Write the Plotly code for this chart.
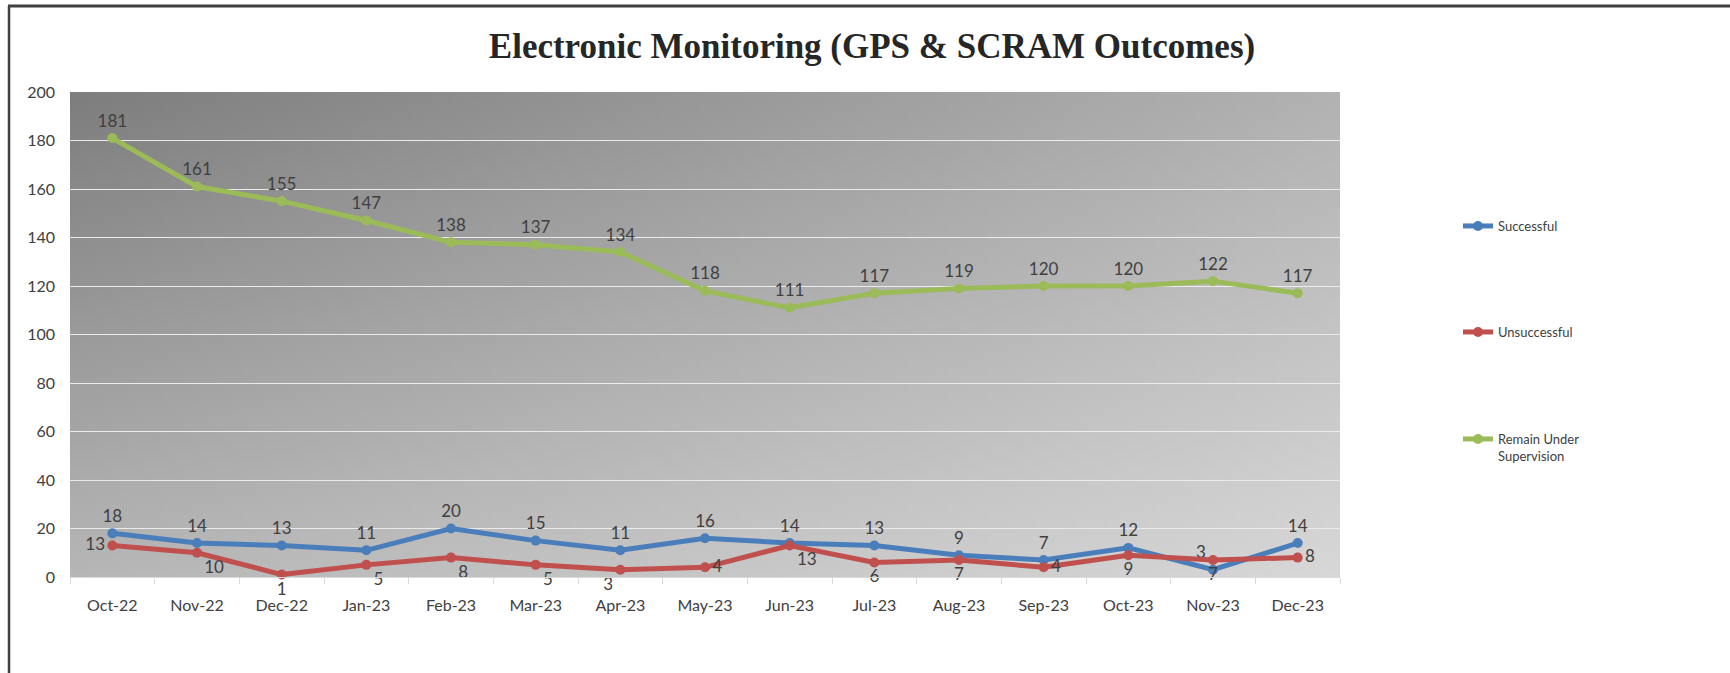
import zlib, struct, base64
import plotly.graph_objects as go

months = ["Oct-22", "Nov-22", "Dec-22", "Jan-23", "Feb-23", "Mar-23", "Apr-23", "May-23",
          "Jun-23", "Jul-23", "Aug-23", "Sep-23", "Oct-23", "Nov-23", "Dec-23"]
successful = [18, 14, 13, 11, 20, 15, 11, 16, 14, 13, 9, 7, 12, 3, 14]
unsuccessful = [13, 10, 1, 5, 8, 5, 3, 4, 13, 6, 7, 4, 9, 7, 8]
remain = [181, 161, 155, 147, 138, 137, 134, 118, 111, 117, 119, 120, 120, 122, 117]

succ_pos = ["top center"] * 15
succ_pos[13] = "top left"
unsucc_pos = ["middle left", "bottom right", "bottom center", "bottom right", "bottom right",
              "bottom right", "bottom left", "middle right", "bottom right", "bottom center",
              "bottom center", "middle right", "bottom center", "bottom center", "middle right"]

# gradient background image (grey, darker top-left -> lighter bottom-right)
def make_png(w, h, tl, tr, bl, br):
    rows = []
    for j in range(h):
        v = j / (h - 1)
        row = bytearray([0])
        for i in range(w):
            u = i / (w - 1)
            val = tl * (1 - u) * (1 - v) + tr * u * (1 - v) + bl * (1 - u) * v + br * u * v
            row.append(int(round(val)))
        rows.append(bytes(row))
    raw = b"".join(rows)

    def chunk(t, d):
        c = struct.pack(">I", len(d)) + t + d
        return c + struct.pack(">I", zlib.crc32(t + d) & 0xffffffff)

    data = b"\x89PNG\r\n\x1a\n"
    data += chunk(b"IHDR", struct.pack(">IIBBBBB", w, h, 8, 0, 0, 0, 0))
    data += chunk(b"IDAT", zlib.compress(raw, 9))
    data += chunk(b"IEND", b"")
    return "data:image/png;base64," + base64.b64encode(data).decode()

bg = make_png(128, 64, 126, 178, 182, 215)

W, H = 1730, 673
L, R, T, B = 70, 1340, 92, 577
pw, ph = R - L, B - T

def px_x(p):
    return (p - L) / pw

def px_y(p):
    return 1 - (p - T) / ph

lbl_font = dict(family="Lato", size=17, color="#404040")
tick_font = dict(family="Lato", size=16, color="#404040")

fig = go.Figure()
fig.add_trace(go.Scatter(
    x=months, y=successful, name="Successful", mode="lines+markers+text",
    line=dict(color="#4A7EBB", width=5), marker=dict(size=10, color="#4A7EBB"),
    text=[str(v) for v in successful], textposition=succ_pos, textfont=lbl_font,
    legend="legend", cliponaxis=False))
fig.add_trace(go.Scatter(
    x=months, y=unsuccessful, name="Unsuccessful", mode="lines+markers+text",
    line=dict(color="#C0504D", width=5), marker=dict(size=10, color="#C0504D"),
    text=[str(v) for v in unsuccessful], textposition=unsucc_pos, textfont=lbl_font,
    legend="legend2", cliponaxis=False))
fig.add_trace(go.Scatter(
    x=months, y=remain, name="Remain Under<br>Supervision", mode="lines+markers+text",
    line=dict(color="#9BBB59", width=5), marker=dict(size=10, color="#9BBB59"),
    text=[str(v) for v in remain], textposition="top center", textfont=lbl_font,
    legend="legend3", cliponaxis=False))

leg_common = dict(font=dict(family="Lato", size=13, color="#404040"),
                  bgcolor="rgba(0,0,0,0)", xanchor="left", valign="top")
LEGX = 1458

fig.update_layout(
    width=W, height=H, autosize=False,
    margin=dict(l=L, r=W - R, t=T, b=H - B),
    paper_bgcolor="white", plot_bgcolor="rgba(0,0,0,0)",
    title=dict(text="<b>Electronic Monitoring (GPS &amp; SCRAM Outcomes)</b>",
               font=dict(family="Liberation Serif", size=35, color="#262626"),
               x=872 / W, xanchor="center", xref="container", y=1 - 46 / H, yanchor="middle"),
    images=[dict(source=bg, xref="paper", yref="paper", x=0, y=1, sizex=1, sizey=1,
                 xanchor="left", yanchor="top", sizing="stretch", layer="below")],
    xaxis=dict(type="category", range=[-0.5, 14.5], tickson="boundaries",
               ticks="outside", ticklen=6, tickcolor="#d9d9d9", showline=True,
               linecolor="#d9d9d9", linewidth=1, showgrid=False,
               tickfont=tick_font, ticklabelstandoff=14),
    yaxis=dict(range=[0, 200], dtick=20, showgrid=True, gridcolor="#ebebeb", gridwidth=1,
               zeroline=False, showline=False, ticks="",
               tickfont=tick_font, ticklabelstandoff=14),
    legend=dict(x=px_x(LEGX), y=px_y(211), yanchor="top", **leg_common),
    legend2=dict(x=px_x(LEGX), y=px_y(317), yanchor="top", **leg_common),
    legend3=dict(x=px_x(LEGX), y=px_y(424), yanchor="top", **leg_common),
    showlegend=True,
    shapes=[
        dict(type="line", xref="paper", yref="paper", x0=px_x(8), x1=px_x(W + 20),
             y0=px_y(6), y1=px_y(6), line=dict(color="#404040", width=3)),
        dict(type="line", xref="paper", yref="paper", x0=px_x(9), x1=px_x(9),
             y0=px_y(6), y1=px_y(H + 20), line=dict(color="#404040", width=2.5)),
    ],
)

fig.write_html("out.html", config={"displayModeBar": False},
               post_script="document.body.style.margin='0';")
